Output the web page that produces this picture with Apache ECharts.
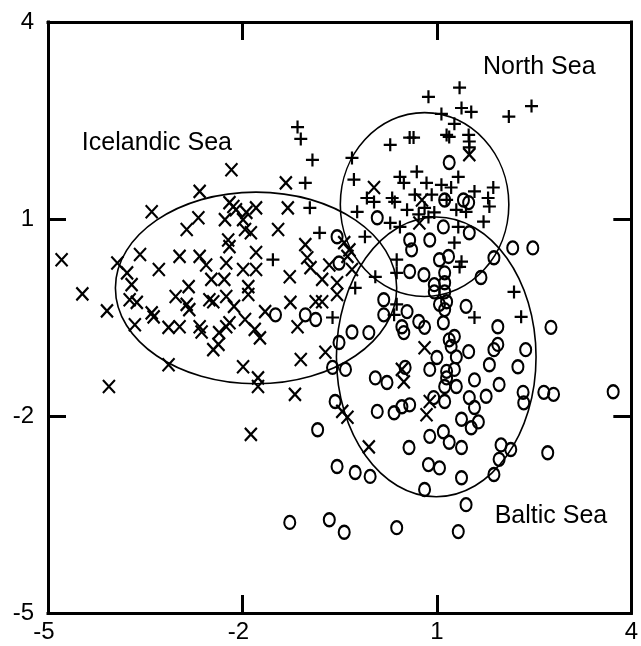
<!DOCTYPE html>
<html>
<head>
<meta charset="utf-8">
<title>Seas</title>
<script src="https://cdn.jsdelivr.net/npm/echarts@6/dist/echarts.min.js"></script>
<style>
html,body{margin:0;padding:0;background:#fff;}
#container{width:641px;height:646px;}
</style>
</head>
<body>
<div id="container"></div>
<script>
var axisMin=-5, axisMax=4, axisStep=3;

// x marks
var icelandicPts=[
    [-2.17,1.75],[-2.66,1.42],[-1.33,1.55],[1.50,1.98],[0.03,1.48],[0.77,1.29],[0.73,0.94],
    [-3.40,1.11],[-2.68,1.02],[-2.86,0.84],[-2.20,1.25],[-2.14,1.19],[-2.10,1.14],[-1.94,1.10],[-1.79,1.17],
    [-2.27,0.99],[-1.99,0.99],[-1.96,0.84],[-1.87,0.79],[-1.30,1.17],[-1.45,0.84],[-2.22,0.68],[-2.20,0.58],
    [-4.79,0.38],[-3.93,0.33],[-3.58,0.46],[-2.97,0.43],[-2.66,0.43],[-2.56,0.30],[-2.25,0.33],[-1.79,0.49],
    [-3.29,0.23],[-3.78,0.18],[-2.48,0.08],[-2.28,0.08],[-1.99,0.23],[-1.79,0.23],[-1.27,0.12],[-1.03,0.61],
    [-1.00,0.41],[-0.95,0.26],
    [-4.47,-0.14],[-3.71,0.00],[-2.83,-0.03],[-3.03,-0.18],[-2.86,-0.30],[-2.82,-0.38],[-2.51,-0.23],[-2.45,-0.26],
    [-2.25,-0.18],[-2.13,-0.33],[-1.91,-0.03],[-1.91,-0.15],[-1.26,-0.27],[-0.87,-0.26],[-0.77,-0.26],
    [-4.09,-0.40],[-3.74,-0.23],[-3.63,-0.27],[-3.40,-0.43],[-3.37,-0.49],
    [-3.66,-0.61],[-3.14,-0.65],[-2.97,-0.64],[-2.66,-0.64],[-2.63,-0.72],[-2.36,-0.73],[-2.25,-0.64],[-2.20,-0.58],
    [-1.96,-0.53],[-1.81,-0.68],[-1.73,-0.81],[-1.65,-0.41],[-1.15,-0.64],
    [-2.45,-0.99],[-2.37,-0.91],[-3.14,-1.22],[-1.99,-1.25],[-1.76,-1.42],[-1.76,-1.55],[-1.19,-1.67],[-1.10,-1.14],
    [-4.06,-1.55],[-1.87,-2.28],[-0.72,-1.03],
    [-0.66,0.30],[-0.77,0.08],[-0.31,0.23],[-0.38,0.43],[-0.43,0.64],[-0.35,0.53],[-0.54,-0.15],[-0.54,0.03],
    [0.46,-1.29],[0.81,-0.96],[0.49,-1.48],[0.89,-1.78],[0.84,-1.98],[-0.46,-1.93],[-0.38,-2.02],[-0.05,-2.47]
];
// + marks
var northSeaPts=[
    [-1.15,2.40],[-1.10,2.22],[-0.92,1.90],[-1.03,1.55],[-0.96,1.17],[-0.81,0.79],[-1.53,0.38],[-0.31,1.93],
    [-0.28,1.60],[-0.23,1.11],[-0.11,0.73],[0.05,0.12],[-0.26,-0.05],[-0.61,-0.50],
    [0.28,2.13],[0.58,2.24],[0.64,2.24],[0.87,2.86],[1.35,3.00],[1.38,2.69],[1.53,2.63],[1.07,2.60],[1.27,2.45],
    [2.11,2.56],[2.46,2.72],
    [1.15,2.28],[1.19,2.25],[1.49,2.28],[1.50,2.18],[1.50,2.09],
    [0.43,1.64],[0.49,1.55],[0.69,1.72],[-0.08,1.32],[0.03,1.26],[0.31,1.32],[0.35,1.26],[0.54,1.14],[0.28,0.94],[0.43,0.88],
    [1.33,1.64],[0.84,1.55],[1.07,1.52],[1.22,1.48],[1.58,1.42],[1.87,1.48],[1.79,1.32],[1.81,1.19],[1.72,0.96],
    [1.45,1.11],[1.30,1.14],[1.15,1.29],[1.33,0.88],[0.92,1.37],[0.81,1.17],[0.96,1.10],[0.72,1.07],[0.87,1.03],[0.66,1.37],
    [1.27,0.64],[1.38,0.35],[1.35,0.27],[2.19,-0.11],[2.30,-0.49],[1.58,-0.50],[0.38,0.38],[0.38,0.18],[0.38,-0.30],[0.34,-0.46]
];
// o marks
var balticPts=[
    [1.19,1.86],[1.12,1.29],[1.41,1.29],[1.49,1.25],[0.08,1.02],[1.10,0.88],[1.50,0.79],[-0.54,0.73],[-0.51,0.33],
    [0.58,0.68],[0.89,0.68],[0.61,0.53],[1.04,0.38],[1.18,0.43],[1.88,0.41],[2.17,0.56],[2.48,0.56],
    [0.58,0.20],[0.80,0.15],[1.12,0.18],[1.68,0.11],
    [0.96,0.00],[1.12,0.03],[0.96,-0.11],[1.12,-0.11],
    [0.18,-0.23],[0.18,-0.46],[0.54,-0.41],[1.04,-0.30],[1.15,-0.26],[1.12,-0.38],[1.45,-0.33],
    [-1.49,-0.46],[-1.03,-0.46],[-0.87,-0.53],
    [0.46,-0.64],[0.49,-0.73],[0.72,-0.56],[0.81,-0.65],[1.10,-0.58],[1.94,-0.64],[2.76,-0.65],
    [-0.51,-0.88],[-0.31,-0.72],[-0.05,-0.73],
    [1.19,-0.84],[1.27,-0.79],[1.22,-0.94],[1.30,-1.10],[1.49,-1.02],[1.00,-1.11],
    [1.94,-0.91],[1.88,-0.99],[2.37,-0.99],[1.81,-1.22],[2.25,-1.25],
    [-0.61,-1.26],[-0.41,-1.29],[0.05,-1.42],[0.23,-1.49],[0.51,-1.26],[0.89,-1.29],
    [1.15,-1.32],[1.15,-1.42],[1.27,-1.29],[1.12,-1.55],[1.30,-1.55],[1.58,-1.45],[1.96,-1.52],
    [2.33,-1.64],[2.34,-1.80],[2.65,-1.64],[2.80,-1.67],[3.72,-1.63],
    [-0.57,-1.78],[0.08,-1.93],[0.34,-1.95],[0.46,-1.86],[0.58,-1.83],[0.95,-1.72],[1.12,-1.78],[1.50,-1.72],
    [1.58,-1.87],[1.76,-1.70],
    [1.38,-2.05],[1.64,-2.09],[1.53,-2.18],[-0.84,-2.21],
    [0.89,-2.31],[1.10,-2.24],[1.19,-2.40],[1.38,-2.48],[0.57,-2.48],[1.99,-2.44],[2.14,-2.51],[1.96,-2.66],[2.71,-2.56],
    [-0.54,-2.77],[-0.26,-2.86],[-0.03,-2.92],[0.87,-2.74],[1.04,-2.79],[1.38,-2.94],[1.88,-2.89],
    [0.81,-3.12],[1.45,-3.35],
    [-1.27,-3.62],[-0.66,-3.58],[-0.43,-3.77],[0.38,-3.70],[1.33,-3.76]
];

// ellipses: centre and half axes (data units)
var ellipseCenters=[[-1.79,-0.05],[0.81,1.22],[0.99,-1.10]];
var ellipseRadii=[[2.17,1.46],[1.30,1.40],[1.54,2.13]];

var seaNames=['Icelandic Sea','North Sea','Baltic Sea'];
var seaLabelPos=[[-3.32,2.16],[2.58,3.32],[2.76,-3.53]];

var FONT='"Liberation Sans", Arial, sans-serif';
var xSymbol='path://M0,0L10,10M10,0L0,10';
var plusSymbol='path://M5,0L5,10M0,5L10,5';
var oSymbol='path://M0,6A5,6,0,1,1,10,6A5,6,0,1,1,0,6Z';

function makeAxis(pos,showLabel){
    var ax={
        type:'value'
        ,min:axisMin
        ,max:axisMax
        ,interval:axisStep
        ,position:pos
        ,axisLine:{show:true,onZero:false,lineStyle:{color:'#000',width:3,cap:'square'}}
        ,axisTick:{show:true,inside:true,length:18,lineStyle:{color:'#000',width:3}}
        ,splitLine:{show:false}
        ,axisLabel:{show:showLabel,color:'#000',fontSize:24,fontFamily:FONT}
    };
    return ax;
}

var xBottom=makeAxis('bottom',true);
xBottom.axisLabel.margin=7;
// negative labels: keep the digit centred on the tick
xBottom.axisLabel.formatter=function(v){
    return v<0 ? '{n|'+v+'}' : '{p|'+v+'}';
};
xBottom.axisLabel.rich={
    n:{fontSize:24,fontFamily:FONT,color:'#000',padding:[0,8,0,0]}
    ,p:{fontSize:24,fontFamily:FONT,color:'#000'}
};
var yLeft=makeAxis('left',true);
yLeft.axisLabel.margin=14;

var ellipseData=[];
for(var i=0;i<ellipseCenters.length;i++){
    ellipseData.push([ellipseCenters[i][0],ellipseCenters[i][1],ellipseRadii[i][0],ellipseRadii[i][1]]);
}
var labelData=[];
for(var j=0;j<seaNames.length;j++){
    labelData.push([seaLabelPos[j][0],seaLabelPos[j][1],j]);
}

function markSeries(pts,sym,size){
    return {
        type:'scatter'
        ,data:pts
        ,symbol:sym
        ,symbolSize:size
        ,itemStyle:{color:'rgba(0,0,0,0)',borderColor:'#000',borderWidth:2.2,opacity:1}
        ,emphasis:{disabled:true}
        ,z:3
    };
}

var myChart=echarts.init(document.getElementById('container'));
var option={
    backgroundColor:'#ffffff'
    ,animation:false
    ,grid:{left:48,right:3,top:22,bottom:33}
    ,xAxis:[xBottom,makeAxis('top',false)]
    ,yAxis:[yLeft,makeAxis('right',false)]
    ,series:[
        {
            type:'custom'
            ,data:ellipseData
            ,encode:{x:0,y:1}
            ,renderItem:function(params,api){
                var c=api.coord([api.value(0),api.value(1)]);
                var s=api.size([api.value(2),api.value(3)]);
                return {
                    type:'ellipse'
                    ,shape:{cx:c[0],cy:c[1],rx:s[0],ry:s[1]}
                    ,style:{fill:'none',stroke:'#000',lineWidth:1.6}
                };
            }
            ,z:2
        }
        ,markSeries(icelandicPts,xSymbol,[12,13])
        ,markSeries(northSeaPts,plusSymbol,[13,13])
        ,markSeries(balticPts,oSymbol,[11,13])
        ,{
            type:'custom'
            ,data:labelData
            ,encode:{x:0,y:1}
            ,renderItem:function(params,api){
                var p=api.coord([api.value(0),api.value(1)]);
                return {
                    type:'text'
                    ,x:p[0]
                    ,y:p[1]
                    ,style:{text:seaNames[api.value(2)],fontSize:25,fontFamily:FONT,fill:'#000',align:'center',verticalAlign:'middle'}
                };
            }
            ,z:4
        }
    ]
};
myChart.setOption(option);
</script>
</body>
</html>
